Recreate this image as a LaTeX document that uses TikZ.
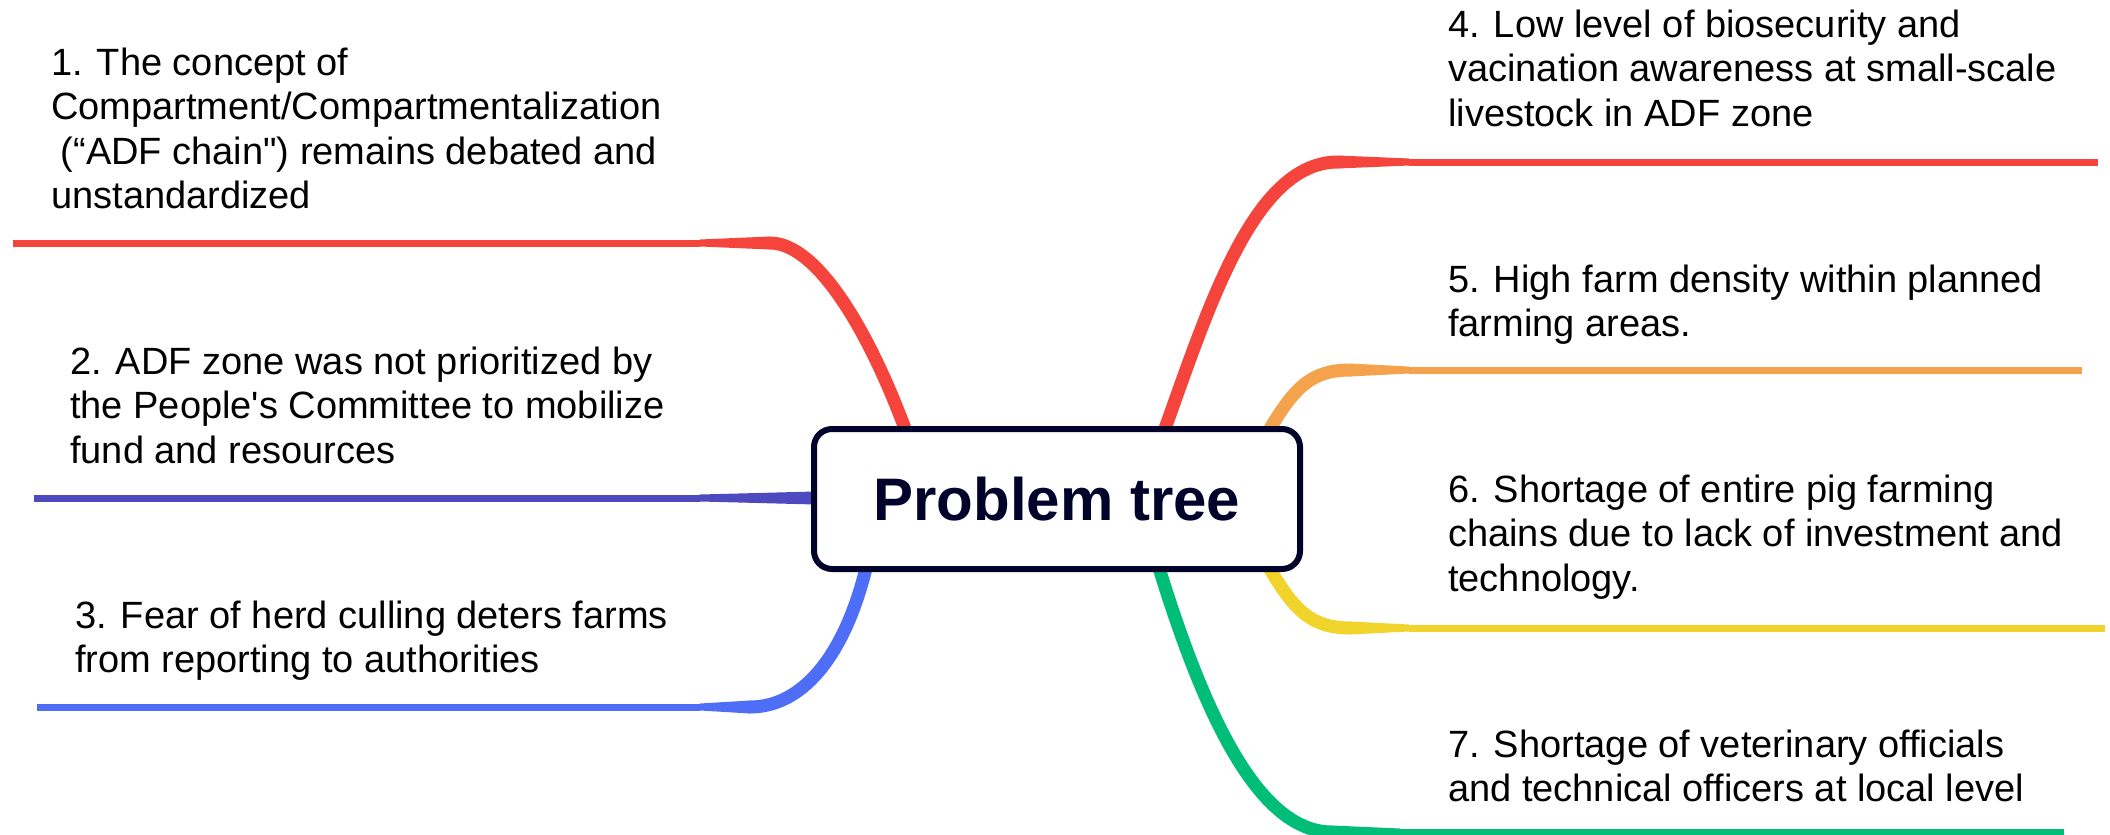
\documentclass[tikz,border=0pt]{standalone}
\usepackage{fontspec}
\newfontfamily\labfont{Liberation Sans}
\usetikzlibrary{calc}
\definecolor{cred}{HTML}{F5443B}
\definecolor{cindigo}{HTML}{4D49BF}
\definecolor{cblue}{HTML}{4E6EF7}
\definecolor{corange}{HTML}{F4A24C}
\definecolor{cyellow}{HTML}{F1D42B}
\definecolor{cgreen}{HTML}{00BD78}
\definecolor{cnavy}{HTML}{02032A}
\newcommand{\taperbr}[3]{% color, bend, taper end
  \fill[#1] ($(#2)+(0,-6.5)$) -- ($(#3)+(0,-3.5)$) -- ($(#3)+(0,3.5)$) -- ($(#2)+(0,6.5)$) -- cycle;}
\begin{document}
\begin{tikzpicture}[x=1pt,y=-1pt,
  lab/.style={anchor=base west, align=left, inner sep=0pt, font=\labfont\fontsize{38}{44.5}\selectfont, text=black},
  thickbr/.style={line width=13pt, line cap=round},
  thinbr/.style={line width=7pt},
  rootbox/.style={draw=cnavy, line width=6pt, fill=white, rounded corners=18pt, minimum width=486pt, minimum height=140pt, inner sep=0pt, text=cnavy, font=\labfont\bfseries\fontsize{60}{72}\selectfont}
]
\useasboundingbox (0,0) rectangle (2110,835);

% coordinates
\coordinate (s1) at (911,445); \coordinate (b1) at (770,243); \coordinate (t1) at (700,243); \coordinate (e1) at (13,243);
\coordinate (s2) at (815,498); \coordinate (t2) at (700,498); \coordinate (e2) at (34,498);
\coordinate (s3) at (868,560); \coordinate (b3) at (750,707); \coordinate (t3) at (700,707); \coordinate (e3) at (37,707);
\coordinate (s4) at (1159,445); \coordinate (b4) at (1338,162); \coordinate (t4) at (1409,162); \coordinate (e4) at (2098,162);
\coordinate (s5) at (1262,442); \coordinate (b5) at (1350,370); \coordinate (t5) at (1409,370); \coordinate (e5) at (2082,370);
\coordinate (s6) at (1262,556); \coordinate (b6) at (1350,628); \coordinate (t6) at (1409,628); \coordinate (e6) at (2105,628);
\coordinate (s7) at (1156,558); \coordinate (b7) at (1332,832); \coordinate (t7) at (1400,832); \coordinate (e7) at (2064,832);

% branch 1
\draw[cred, thickbr] (s1) .. controls (872,335) and (818,243) .. (b1);
\taperbr{cred}{b1}{t1}
\draw[cred, thinbr] (t1) -- (e1);
% branch 2
\taperbr{cindigo}{s2}{t2}
\draw[cindigo, thinbr] (t2) -- (e2);
% branch 3
\draw[cblue, thickbr] (s3) .. controls (845,660) and (800,707) .. (b3);
\taperbr{cblue}{b3}{t3}
\draw[cblue, thinbr] (t3) -- (e3);
% branch 4
\draw[cred, thickbr] (s4) .. controls (1205,320) and (1250,162) .. (b4);
\taperbr{cred}{b4}{t4}
\draw[cred, thinbr] (t4) -- (e4);
% branch 5
\draw[corange, thickbr] (s5) .. controls (1290,395) and (1305,370) .. (b5);
\taperbr{corange}{b5}{t5}
\draw[corange, thinbr] (t5) -- (e5);
% branch 6
\draw[cyellow, thickbr] (s6) .. controls (1290,603) and (1305,628) .. (b6);
\taperbr{cyellow}{b6}{t6}
\draw[cyellow, thinbr] (t6) -- (e6);
% branch 7
\draw[cgreen, thickbr] (s7) .. controls (1205,720) and (1260,832) .. (b7);
\taperbr{cgreen}{b7}{t7}
\draw[cgreen, thinbr] (t7) -- (e7);

\node[rootbox] (root) at (1057,499) {Problem tree};

% labels: anchor is the baseline of the last line
\node[lab] (l1) at (51,208.5) {1. The concept of\\Compartment/Compartmentalization\\\hspace*{0.25em}(“ADF chain") remains debated and\\unstandardized};
\node[lab] (l2) at (70,463) {2. ADF zone was not prioritized by\\the People's Committee to mobilize\\fund and resources};
\node[lab] (l3) at (75,672.5) {3. Fear of herd culling deters farms\\from reporting to authorities};
\node[lab] (l4) at (1448,126) {4. Low level of biosecurity and\\vacination awareness at small-scale\\livestock in ADF zone};
\node[lab] (l5) at (1448,336.5) {5. High farm density within planned\\farming areas.};
\node[lab] (l6) at (1448,591) {6. Shortage of entire pig farming\\chains due to lack of investment and\\technology.};
\node[lab] (l7) at (1448,801.5) {7. Shortage of veterinary officials\\and technical officers at local level};
\end{tikzpicture}
\end{document}
